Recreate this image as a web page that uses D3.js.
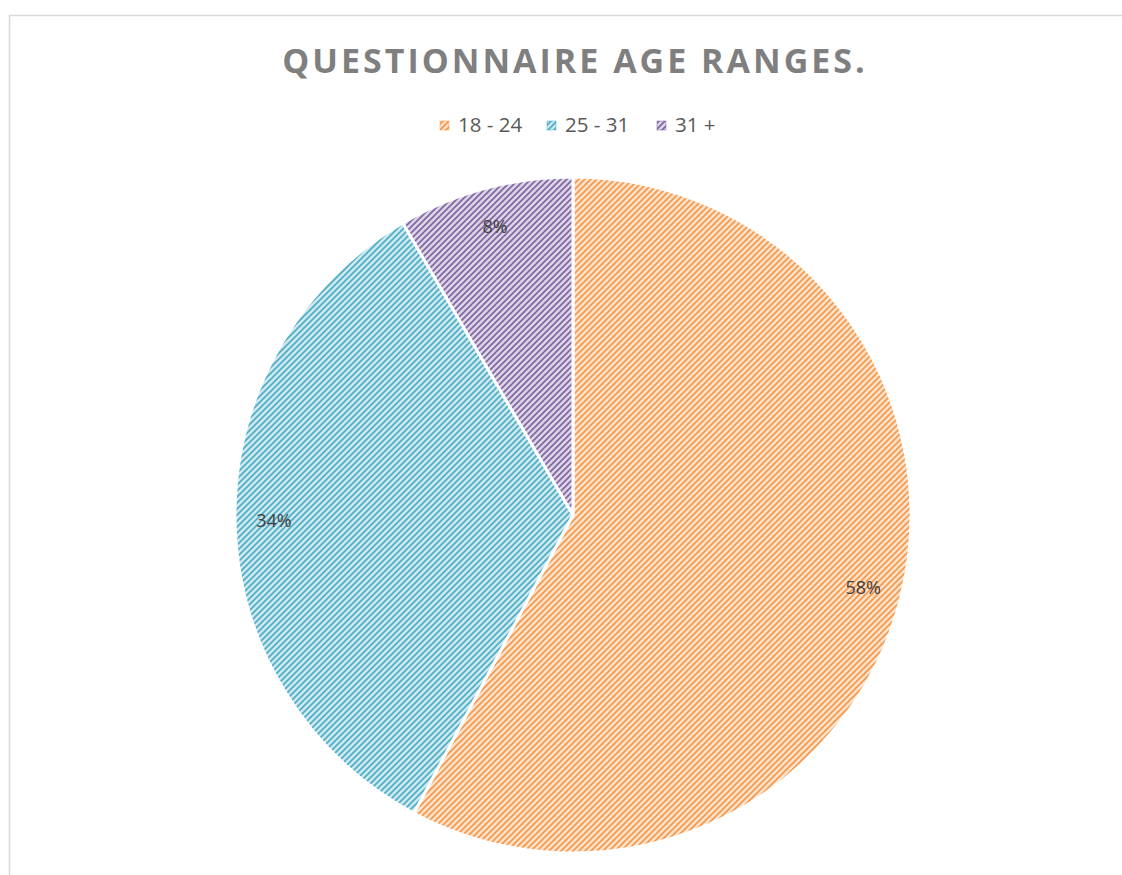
<!DOCTYPE html>
<html>
<head>
<meta charset="utf-8">
<script src="https://cdn.jsdelivr.net/npm/d3@7"></script>
<style>
  body { margin: 0; background: #fff; }
  svg { display: block; }
</style>
</head>
<body>
<svg width="1122" height="875"></svg>
<script>
var title = "QUESTIONNAIRE AGE RANGES.";
var categories = ["18 - 24", "25 - 31", "31 +"];
var values = [57.8, 33.8, 8.4];
var labels = ["58%", "34%", "8%"];
var colors = ["#F79646", "#4BACC6", "#8064A2"];

var svg = d3.select("svg");

// chart frame
svg.append("path")
    .attr("d", "M9.5,875 L9.5,15.5 L1122,15.5")
    .attr("fill", "none")
    .attr("stroke", "#D9D9D9")
    .attr("stroke-width", 1.5);

// stripe patterns
var defs = svg.append("defs");
colors.forEach(function(c, i) {
    var p = defs.append("pattern")
        .attr("id", "hatch" + i)
        .attr("patternUnits", "userSpaceOnUse")
        .attr("width", 6)
        .attr("height", 6);
    p.append("rect")
        .attr("width", 6).attr("height", 6)
        .attr("fill", d3.interpolateRgb(c, "#fff")(0.72));
    p.append("path")
        .attr("d", "M-1,1 L1,-1 M0,6 L6,0 M5,7 L7,5")
        .attr("stroke", c)
        .attr("stroke-width", 1.6);
});

svg.append("text")
    .attr("x", 575)
    .attr("y", 73)
    .attr("text-anchor", "middle")
    .attr("font-family", "Open Sans, sans-serif")
    .attr("font-weight", "bold")
    .attr("font-size", 34)
    .attr("letter-spacing", 3)
    .attr("fill", "#7F7F7F")
    .text(title);

// legend
var legendX = [440, 547, 657];
var legend = svg.append("g");
categories.forEach(function(cat, i) {
    legend.append("rect")
        .attr("x", legendX[i]).attr("y", 121)
        .attr("width", 9).attr("height", 9)
        .attr("fill", "url(#hatch" + i + ")")
        .attr("stroke", colors[i]).attr("stroke-width", 0.5);
    legend.append("text")
        .attr("x", legendX[i] + 18).attr("y", 132)
        .attr("font-family", "Open Sans, sans-serif")
        .attr("font-size", 20.5)
        .attr("fill", "#595959")
        .text(cat);
});

// pie
var cx = 573, cy = 515, r = 338;
var pie = d3.pie().sort(null).value(function(d) { return d; });
var arc = d3.arc().innerRadius(0).outerRadius(r);
var arcs = pie(values);

var g = svg.append("g").attr("transform", "translate(" + cx + "," + cy + ")");
g.selectAll("path.slice")
    .data(arcs)
    .enter()
    .append("path")
    .attr("class", "slice")
    .attr("d", arc)
    .attr("fill", function(d, i) { return "url(#hatch" + i + ")"; })
    .attr("stroke", "#fff")
    .attr("stroke-width", 3)
    .attr("stroke-linejoin", "round");

var labelArc = d3.arc().innerRadius(r * 0.885).outerRadius(r * 0.885);
g.selectAll("text.lbl")
    .data(arcs)
    .enter()
    .append("text")
    .attr("class", "lbl")
    .attr("transform", function(d) { return "translate(" + labelArc.centroid(d) + ")"; })
    .attr("text-anchor", "middle")
    .attr("dy", "0.35em")
    .attr("font-family", "Open Sans, sans-serif")
    .attr("font-size", 18)
    .attr("fill", "#404040")
    .text(function(d, i) { return labels[i]; });
</script>
</body>
</html>
